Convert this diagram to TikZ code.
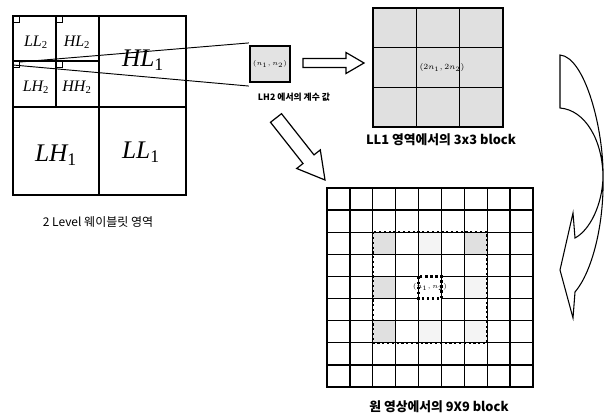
\documentclass[tikz,border=0pt]{standalone}
\usepackage{fontspec}
\setmainfont{Liberation Serif}
\newfontfamily\kr{Noto Sans CJK KR}
\usetikzlibrary{calc}
\begin{document}
\begin{tikzpicture}[x=0.75pt,y=-0.75pt,
  sublab/.style={font=\fontsize{12}{12}\selectfont\itshape, inner sep=0pt},
  biglab/.style={font=\fontsize{19}{19}\selectfont\itshape, inner sep=0pt},
  captxt/.style={font=\kr\bfseries\fontsize{9.6}{9.6}\selectfont, inner sep=0pt},
  wline/.style={line width=0.8pt, black},
  hollow/.style={draw=black, line width=0.9pt, fill=white, line join=miter},
  cornerbox/.style={draw=black, line width=0.6pt},
  stip/.style={fill=gray!24},
  faint/.style={fill=gray!9}]
\useasboundingbox (0,0) rectangle (609,416);

% ---------- 2 level wavelet domain ----------
\draw[wline] (13,16) rectangle (186,195);
\draw[wline] (99,16) -- (99,195);
\draw[wline] (13,107) -- (186,107);
\draw[wline] (56,16) -- (56,107);
\draw[wline] (13,61) -- (99,61);
\draw[cornerbox] (13,16) rectangle (19,22);
\draw[cornerbox] (56,16) rectangle (62,22);
\draw[cornerbox] (13,61) rectangle (19,67);
\draw[cornerbox] (56,61) rectangle (62,67);
\coordinate (lhA) at (20,62);
\coordinate (lhB) at (13,65);

\node[sublab] (ll2) at (36,42) {LL\textsubscript{\upshape 2}};
\node[sublab] (hl2) at (77,42) {HL\textsubscript{\upshape 2}};
\node[sublab] (lh2) at (36,87) {LH\textsubscript{\upshape 2}};
\node[sublab] (hh2) at (77,87) {HH\textsubscript{\upshape 2}};
\node[biglab] (hl1) at (143,60) {HL\textsubscript{\upshape 1}};
\node[biglab] (lh1) at (56,155) {LH\textsubscript{\upshape 1}};
\node[biglab] (ll1) at (141,152) {LL\textsubscript{\upshape 1}};
\node[font=\kr\fontsize{9}{9}\selectfont, inner sep=0pt] (cap1) at (98,222) {2 Level 웨이블릿 영역};

% ---------- coefficient box ----------
\node[draw=black, line width=1.6pt, fill=gray!22, minimum width=30pt, minimum height=27pt, inner sep=0pt,
      font=\fontsize{5}{5}\selectfont] (nb) at (270,64) {$(n_1,n_2)$};
\coordinate (nbA) at ($(nb.north west)+(0,-2)$);
\coordinate (nbB) at ($(nb.south west)+(0,3)$);
\draw[line width=0.7pt] (lhA) -- (nbA);
\draw[line width=0.7pt] (lhB) -- (nbB);
\node[captxt, font=\kr\bfseries\fontsize{6.6}{6.6}\selectfont] (cap2) at (294,97) {LH2 에서의 계수 값};

% right hollow arrow
\draw[hollow] (303,58.5) -- (346,58.5) -- (346,52.5) -- (364,63) -- (346,73.5) -- (346,67.5) -- (303,67.5) -- cycle;

% diagonal hollow arrow
\draw[hollow] (281.5,113.7) -- (314.0,154.9) -- (320.3,149.9) -- (325,180) -- (296.7,168.5) -- (303.0,163.5) -- (270.5,122.3) -- cycle;

% ---------- 3x3 block ----------
\fill[gray!24] (373,8) rectangle (503,127);
\foreach \x in {416.3,459.7} \draw[line width=0.8pt] (\x,8) -- (\x,127);
\foreach \y in {47.7,87.3} \draw[line width=0.8pt] (373,\y) -- (503,\y);
\draw[line width=1.8pt] (373,8) rectangle (503,127);
\node[font=\fontsize{6}{6}\selectfont, inner sep=0pt] (c33) at (442,68) {$(2n_1,2n_2)$};
\node[captxt] (cap3) at (441,140) {LL1 영역에서의 3x3 block};

% ---------- 9x9 block ----------
\def\gx{327}\def\gy{188}\def\cw{22.89}\def\ch{22.11}
\foreach \i/\j in {2/2,6/2,2/4,2/6}
  \fill[stip] ({\gx+\i*\cw},{\gy+\j*\ch}) rectangle ++(\cw,\ch);
\foreach \i/\j in {4/2,6/4,4/6,6/6}
  \fill[faint] ({\gx+\i*\cw},{\gy+\j*\ch}) rectangle ++(\cw,\ch);
\foreach \k in {1,...,8} {
  \draw[line width=1pt] ({\gx+\k*\cw},\gy) -- ({\gx+\k*\cw},387);
  \draw[line width=1pt] (\gx,{\gy+\k*\ch}) -- (533,{\gy+\k*\ch});
}
\draw[line width=1.6pt, dotted] ({\gx+2*\cw},{\gy+2*\ch}) rectangle ({\gx+7*\cw},{\gy+7*\ch});
\fill[white] ({\gx+4*\cw},{\gy+4*\ch}) rectangle ++(\cw,\ch);
\draw[line width=1.8pt, dotted] ({\gx+4*\cw},{\gy+4*\ch}) rectangle ++(\cw,\ch);
\node[font=\fontsize{3.5}{3.5}\selectfont, inner sep=0pt] (c99) at ({\gx+4.5*\cw},{\gy+4.5*\ch}) {$(n_1,n_2)$};
\draw[line width=1.8pt] (327,188) rectangle (533,387);
\node[captxt] (cap4) at (439,407) {원 영상에서의 9X9 block};

% ---------- curved arrow ----------
\draw[line width=0.8pt, line join=miter, fill=white]
  (560,55) -- (560,108)
  .. controls (585,110) and (603,140) .. (603,178)
  .. controls (602,205) and (590,230) .. (575,238)
  -- (573,213) -- (560,270) -- (573,318) -- (575,292)
  .. controls (592,272) and (604,225) .. (603,178)
  .. controls (604,130) and (585,57) .. (560,55) -- cycle;
\end{tikzpicture}
\end{document}
